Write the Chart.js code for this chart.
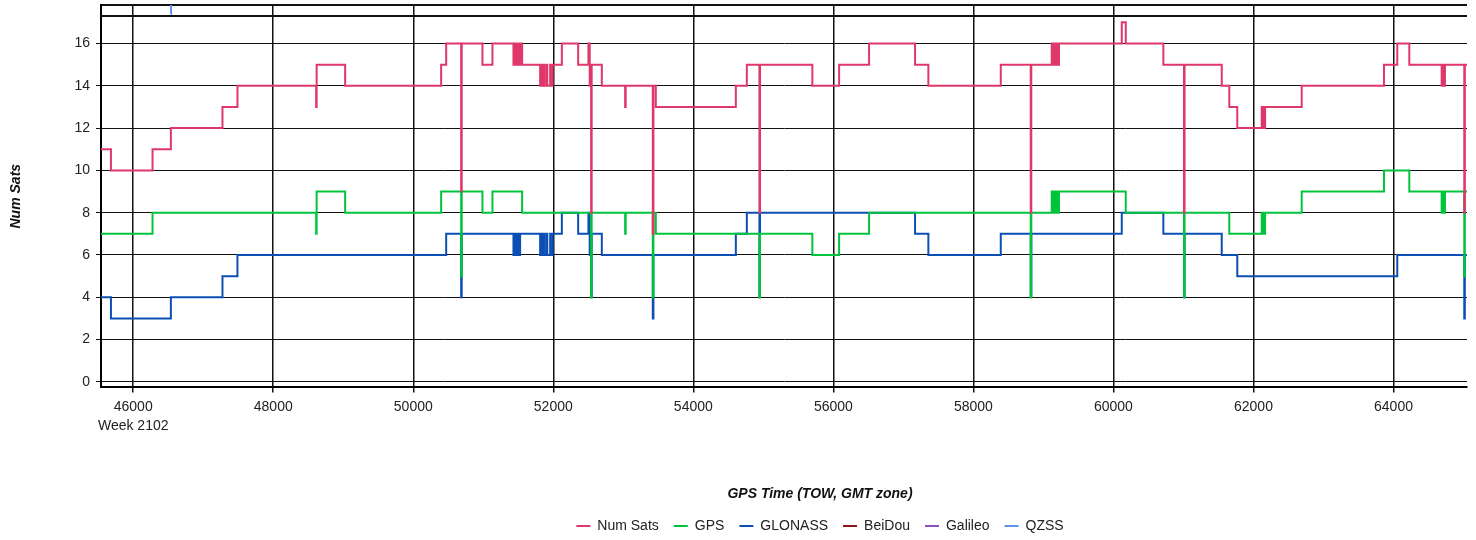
<!DOCTYPE html>
<html>
<head>
<meta charset="utf-8">
<title>Num Sats</title>
<script src="https://cdn.jsdelivr.net/npm/chart.js@4.4.1/dist/chart.umd.min.js"></script>
<style>
  html, body { margin: 0; padding: 0; background: #fff; overflow: hidden; }
  canvas { display: block; }
</style>
</head>
<body>
<canvas id="satChart" width="1640" height="543"></canvas>
<script>
// [GPS time of week, satellite count from that moment on]
const numSatsSteps = [
  [45540, 11], [45682, 10], [46276, 11], [46538, 12], [47275, 13], [47489, 14],
  [48613, 13], [48620, 15], [49027, 14], [50398, 15], [50470, 16], [50684, 9], [50692, 16],
  [50988, 15], [51131, 16],
  [51431, 15], [51440, 16], [51448, 15], [51456, 16], [51464, 15], [51472, 16], [51480, 15],
  [51488, 16], [51496, 15], [51504, 16], [51512, 15], [51526, 16], [51555, 15],
  [51812, 14], [51822, 15], [51830, 14], [51838, 15], [51846, 14], [51854, 15], [51862, 14],
  [51870, 15], [51878, 14], [51908, 15], [51914, 14], [51955, 15], [51961, 14], [51990, 15],
  [52122, 16], [52355, 15], [52502, 16], [52520, 14], [52540, 8], [52548, 15], [52693, 14],
  [53026, 13], [53034, 14], [53421, 7], [53430, 14], [53464, 13], [54607, 14], [54764, 15],
  [54944, 8], [54952, 15], [55700, 14], [56082, 15], [56510, 16], [57167, 15], [57357, 14],
  [58391, 15], [58819, 8], [58827, 15],
  [59119, 16], [59128, 15], [59136, 16], [59144, 15], [59152, 16], [59160, 15], [59168, 16],
  [59176, 15], [59184, 16], [59192, 15], [59200, 16], [59208, 15], [59223, 16],
  [60119, 17], [60176, 16], [60713, 15], [61008, 8], [61016, 15],
  [61547, 14], [61655, 13], [61769, 12],
  [62118, 13], [62126, 12], [62134, 13], [62142, 12], [62150, 13], [62158, 12], [62166, 13],
  [62689, 14], [63864, 15], [64054, 16], [64226, 15],
  [64688, 14], [64696, 15], [64704, 14], [64712, 15], [64720, 14], [64735, 15],
  [65011, 8], [65019, 15], [65050, 15]
];

const gpsSteps = [
  [45540, 7], [46276, 8], [48613, 7], [48620, 9], [49027, 8], [50398, 9], [50684, 5], [50692, 9],
  [50988, 8], [51131, 9], [51555, 8], [52540, 4], [52548, 8], [53026, 7], [53034, 8],
  [53421, 4], [53430, 8], [53464, 7], [54944, 4], [54952, 7], [55700, 6], [56082, 7],
  [56510, 8], [58819, 4], [58827, 8],
  [59119, 9], [59128, 8], [59136, 9], [59144, 8], [59152, 9], [59160, 8], [59168, 9],
  [59176, 8], [59184, 9], [59192, 8], [59200, 9], [59208, 8], [59223, 9],
  [60176, 8], [61008, 4], [61016, 8], [61655, 7],
  [62118, 8], [62126, 7], [62134, 8], [62142, 7], [62150, 8], [62158, 7], [62166, 8],
  [62689, 9], [63864, 10], [64226, 9],
  [64688, 8], [64696, 9], [64704, 8], [64712, 9], [64720, 8], [64735, 9],
  [65011, 5], [65019, 9], [65050, 9]
];

const glonassSteps = [
  [45540, 4], [45682, 3], [46538, 4], [47275, 5], [47489, 6], [50470, 7], [50684, 4], [50692, 7],
  [51431, 6], [51440, 7], [51448, 6], [51456, 7], [51464, 6], [51472, 7], [51480, 6],
  [51488, 7], [51496, 6], [51504, 7], [51512, 6], [51526, 7],
  [51812, 6], [51822, 7], [51830, 6], [51838, 7], [51846, 6], [51854, 7], [51862, 6],
  [51870, 7], [51878, 6], [51908, 7], [51914, 6], [51955, 7], [51961, 6], [51990, 7],
  [52122, 8], [52355, 7], [52502, 8], [52520, 6], [52540, 4], [52548, 7], [52693, 6],
  [53421, 3], [53430, 6], [54607, 7], [54764, 8], [54944, 4], [54952, 8], [57167, 7],
  [57357, 6], [58391, 7], [58819, 4], [58827, 7], [60119, 8], [60713, 7], [61008, 4],
  [61016, 7], [61547, 6], [61769, 5], [64054, 6], [65011, 3], [65019, 6], [65050, 6]
];

const beidouSteps = [];
const galileoSteps = [];
const qzssSteps = [[46538, 17.4], [46540, 19]];

const xTicks = [46000, 48000, 50000, 52000, 54000, 56000, 58000, 60000, 62000, 64000];
const yTicks = [0, 2, 4, 6, 8, 10, 12, 14, 16];
const weekLabel = 'Week 2102';

const towMin = 45540, towMax = 65050;
const yMin = -0.26, yMax = 17.82, yBand = 17.31;

const font = 'Arial, "Liberation Sans", sans-serif';

function series(label, steps, color) {
  return {
    label: label,
    data: steps.map(([x, y]) => ({ x: x, y: y })),
    borderColor: color,
    backgroundColor: color,
    borderWidth: 2,
    stepped: true,
    pointRadius: 0,
    pointHoverRadius: 0,
    fill: false
  };
}

new Chart(document.getElementById('satChart'), {
  type: 'line',
  data: {
    datasets: [
      series('Num Sats', numSatsSteps, '#e0376a'),
      series('GPS', gpsSteps, '#00c43c'),
      series('GLONASS', glonassSteps, '#0c4fb4'),
      series('BeiDou', beidouSteps, '#8b1414'),
      series('Galileo', galileoSteps, '#8c4fbf'),
      series('QZSS', qzssSteps, '#5e92ec')
    ]
  },
  options: {
    responsive: false,
    animation: false,
    events: [],
    layout: { padding: { top: 5, left: 0, right: 0, bottom: 0 } },
    scales: {
      x: {
        type: 'linear',
        position: 'bottom',
        min: towMin,
        max: towMax,
        afterBuildTicks: scale => { scale.ticks = xTicks.map(v => ({ value: v })); },
        afterFit: scale => { scale.paddingLeft = 0; scale.paddingRight = 0; },
        ticks: {
          autoSkip: false,
          maxRotation: 0,
          padding: 5,
          color: '#222',
          font: { family: font, size: 14, lineHeight: 1.35 },
          callback: v => v === xTicks[0] ? [String(v), weekLabel] : String(v)
        },
        grid: { color: '#111', lineWidth: 1.5, tickLength: 5, tickColor: '#111' },
        border: { color: '#000', width: 2 }
      },
      y: {
        type: 'linear',
        position: 'left',
        min: yMin,
        max: yMax,
        afterBuildTicks: scale => {
          scale.ticks = yTicks.concat([yBand, yMax]).map(v => ({ value: v }));
        },
        afterFit: scale => {
          scale.width = 101;
          scale.paddingTop = 0;
          scale.paddingBottom = 0;
        },
        ticks: {
          padding: 6,
          color: '#222',
          font: { family: font, size: 14 },
          callback: v => yTicks.includes(v) ? String(v) : ''
        },
        grid: {
          color: '#111',
          lineWidth: c => (c.tick && c.tick.value > 16 ? 2 : 1),
          tickLength: 5,
          tickColor: c => (c.tick && c.tick.value > 16 ? 'rgba(0,0,0,0)' : '#111')
        },
        border: { color: '#000', width: 2 },
        title: {
          display: true,
          text: 'Num Sats',
          color: '#111',
          padding: { top: 8, bottom: 0 },
          font: { family: font, size: 14, weight: 'bold', style: 'italic' }
        }
      },
      // empty band on the right so legend and x title sit where the original has them
      spacer: {
        type: 'linear',
        position: 'right',
        display: true,
        ticks: { display: false },
        grid: { display: false },
        border: { display: false },
        afterFit: scale => { scale.width = 1640 - 1467; }
      }
    },
    plugins: {
      tooltip: { enabled: false },
      title: {
        display: true,
        position: 'bottom',
        weight: 500,
        text: 'GPS Time (TOW, GMT zone)',
        color: '#111',
        padding: { top: 46, bottom: 1 },
        font: { family: font, size: 14, weight: 'bold', style: 'italic' }
      },
      legend: {
        position: 'bottom',
        labels: {
          usePointStyle: true,
          pointStyle: 'line',
          pointStyleWidth: 14,
          padding: 15,
          color: '#222',
          font: { family: font, size: 14 }
        }
      }
    }
  }
});
</script>
</body>
</html>
